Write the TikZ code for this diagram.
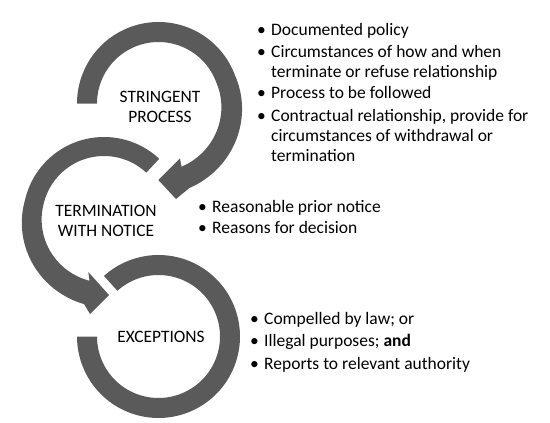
\documentclass[tikz,border=0pt]{standalone}
\usepackage{fontspec}
\setmainfont{Carlito}
\definecolor{ringgray}{HTML}{5A5A5A}
\newcommand{\blt}{\makebox[14pt][l]{\textbullet}}
\newcommand{\bsp}{\hspace*{14pt}}
\begin{document}
\begin{tikzpicture}[x=1pt,y=-1pt,
  lbl/.style={align=center,font=\fontsize{17.4}{20}\selectfont,text=black,inner sep=0pt},
  listbox/.style={align=left,font=\fontsize{17.5}{20}\selectfont,text=black,inner sep=0pt,anchor=base west},
  ring/.style={fill=ringgray}]
\useasboundingbox (0,0) rectangle (550,423);
% arrow 1 (stringent process)
\fill[ring] plot[domain=180:20,samples=60] ({158.5+81.5*cos(\x)},{103.5-81.5*sin(\x)})
  -- plot[domain=20:-70,samples=40] ({158.5+(81.5+8.5*(20-\x)/90)*cos(\x)},{103.5-(81.5+8.5*(20-\x)/90)*sin(\x)})
  -- (176,199) -- (158.3,180) -- (180,158.3)
  -- plot[domain=-70:20,samples=40] ({158.5+(61.5+5.8*(20-\x)/90)*cos(\x)},{103.5-(61.5+5.8*(20-\x)/90)*sin(\x)})
  -- plot[domain=20:180,samples=60] ({158.5+61.5*cos(\x)},{103.5-61.5*sin(\x)}) -- cycle;
% arrow 2 (termination with notice)
\fill[ring] plot[domain=47:167,samples=60] ({104+81*cos(\x)},{218-81*sin(\x)})
  -- plot[domain=167:257,samples=40] ({104+(81+7.4*(\x-167)/90)*cos(\x)},{218-(81+7.4*(\x-167)/90)*sin(\x)})
  -- (90,314) -- (109,295) -- (88.3,272)
  -- plot[domain=257:167,samples=40] ({104+(62+2.4*(\x-167)/90)*cos(\x)},{218-(62+2.4*(\x-167)/90)*sin(\x)})
  -- plot[domain=167:47,samples=60] ({104+62*cos(\x)},{218-62*sin(\x)}) -- cycle;
% ring 3 (exceptions)
\fill[ring] plot[domain=180:492,samples=120] ({158.5+81.5*cos(\x)},{336.5-81.5*sin(\x)})
  -- plot[domain=492:180,samples=120] ({158.5+61.5*cos(\x)},{336.5-61.5*sin(\x)}) -- cycle;
% labels
\node[lbl] (sp) at (160,107) {STRINGENT\\PROCESS};
\node[lbl] (tn) at (106,220.5) {TERMINATION\\WITH NOTICE};
\node[lbl] (ex) at (161,337) {EXCEPTIONS};
% lists (anchor = baseline of last line)
\node[listbox] (l1) at (257,161) {\blt Documented policy\\[2.5pt]
\blt Circumstances of how and when\\
\bsp terminate or refuse relationship\\[1pt]
\blt Process to be followed\\[2.5pt]
\blt Contractual relationship, provide for\\
\bsp circumstances of withdrawal or\\
\bsp termination};
\node[listbox] (l2) at (198,233) {\blt Reasonable prior notice\\[1pt]
\blt Reasons for decision};
\node[listbox] (l3) at (250,369) {\blt Compelled by law; or\\[2.5pt]
\blt Illegal purposes; \textbf{and}\\[2.5pt]
\blt Reports to relevant authority};
\end{tikzpicture}
\end{document}
